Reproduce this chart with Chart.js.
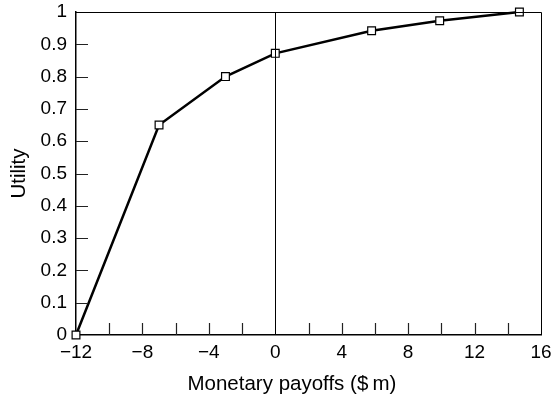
<!DOCTYPE html>
<html>
<head>
<meta charset="utf-8">
<script src="https://cdn.jsdelivr.net/npm/chart.js@4.4.0/dist/chart.umd.min.js"></script>
<style>
  html, body { margin: 0; padding: 0; background: #fff; }
  #wrap { width: 552px; height: 399px; }
</style>
</head>
<body>
<div id="wrap"><canvas id="chartUtility" width="552" height="399"></canvas></div>
<script>
// utility curve: monetary payoff ($m) -> utility
const payoffs = [-12, -7, -3, 0, 5.8, 9.9, 14.7];
const utility = [0, 0.65, 0.8, 0.872, 0.942, 0.973, 1];
const xTicks = [-12, -8, -4, 0, 4, 8, 12, 16];
const xMinor = [-10, -8, -6, -4, -2, 2, 4, 6, 8, 10, 12, 14];
const yMinor = [0.1, 0.2, 0.3, 0.4, 0.5, 0.6, 0.7, 0.8, 0.9];
const xTitle = 'Monetary payoffs ($\u2009m)';

const FONT = '"Liberation Sans", Arial, sans-serif';
const minus = v => String(v).replace('-', '\u2212');

// inward ticks, the x = 0 line, the top/right frame and the x title
const frame = {
  id: 'frame',
  afterDatasetsDraw(chart) {
    const {ctx, chartArea: a, scales: {x, y}} = chart;
    ctx.save();
    ctx.strokeStyle = '#222';
    ctx.lineWidth = 1.2;
    ctx.beginPath();
    xMinor.forEach(v => {
      const px = Math.round(x.getPixelForValue(v)) + 0.5;
      ctx.moveTo(px, a.bottom); ctx.lineTo(px, a.bottom - 12);
    });
    yMinor.forEach(v => {
      const py = Math.round(y.getPixelForValue(v)) + 0.5;
      ctx.moveTo(a.left, py); ctx.lineTo(a.left + 12, py);
    });
    ctx.stroke();
    ctx.lineWidth = 1;
    ctx.strokeStyle = '#000';
    ctx.beginPath();
    const x0 = Math.round(x.getPixelForValue(0)) + 0.5;
    ctx.moveTo(x0, a.bottom); ctx.lineTo(x0, a.top);
    ctx.moveTo(a.left, a.top + 0.5); ctx.lineTo(a.right + 0.5, a.top + 0.5);
    ctx.lineTo(a.right + 0.5, a.bottom);
    ctx.stroke();

    // axis title sits a little left of the plot centre
    ctx.fillStyle = '#000';
    ctx.font = '20.5px ' + FONT;
    ctx.textAlign = 'center';
    ctx.textBaseline = 'alphabetic';
    ctx.fillText(xTitle, x.getPixelForValue(1), 390);
    ctx.restore();
  }
};

new Chart(document.getElementById('chartUtility'), {
  type: 'line',
  data: {
    datasets: [{
      data: payoffs.map((p, i) => ({x: p, y: utility[i]})),
      borderColor: '#000',
      borderWidth: 2.5,
      tension: 0,
      pointStyle: 'rect',
      pointRadius: 5.5,
      pointBorderWidth: 1.2,
      pointBorderColor: '#000',
      pointBackgroundColor: '#fff',
      clip: false
    }]
  },
  options: {
    responsive: false,
    animation: false,
    layout: {padding: {top: 12, right: 11, left: 0, bottom: 0}},
    plugins: {legend: {display: false}, tooltip: {enabled: false}},
    scales: {
      x: {
        type: 'linear',
        min: -12, max: 16,
        afterFit: s => { s.height = 64; s.paddingLeft = 0; s.paddingRight = 0; },
        afterBuildTicks: s => { s.ticks = xTicks.map(v => ({value: v})); },
        grid: {display: false, drawTicks: false},
        border: {display: true, color: '#000', width: 1.5},
        ticks: {
          padding: 6, color: '#000', maxRotation: 0,
          font: {family: FONT, size: 19},
          callback: v => minus(v)
        }
      },
      y: {
        min: 0, max: 1,
        afterFit: s => { s.width = 76; s.paddingTop = 0; s.paddingBottom = 0; },
        ticks: {
          stepSize: 0.1, padding: 9, color: '#000',
          font: {family: FONT, size: 19},
          callback: v => String(+v.toFixed(1))
        },
        grid: {display: false, drawTicks: false},
        border: {display: true, color: '#000', width: 1.5},
        title: {
          display: true, text: 'Utility', color: '#000',
          font: {family: FONT, size: 20.5}, padding: {top: 7}
        }
      }
    }
  },
  plugins: [frame]
});
</script>
</body>
</html>
